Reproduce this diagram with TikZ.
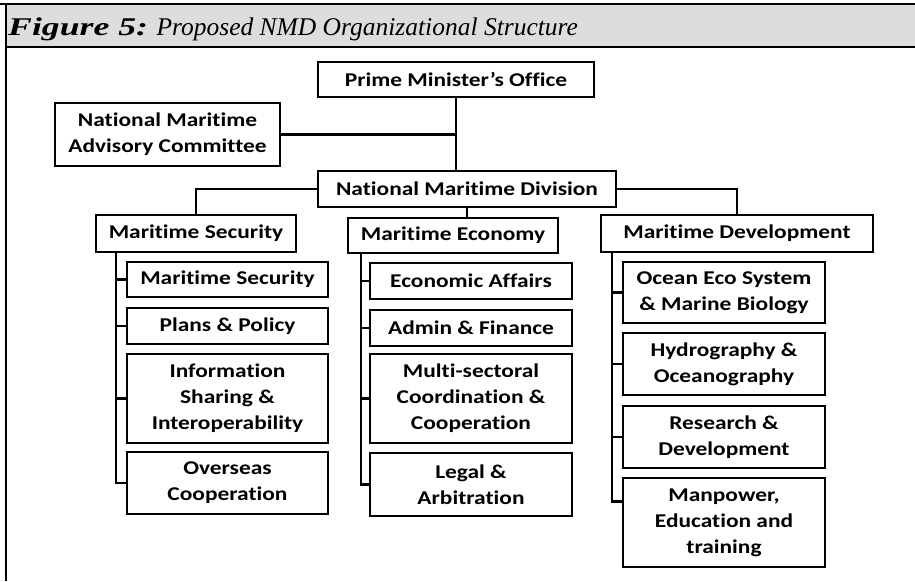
\documentclass[tikz,border=0pt]{standalone}
\usepackage{fontspec}
\newfontfamily\boxfont{Carlito}[FakeStretch=1.2,Ligatures=CommonOff]
\newfontfamily\titlefont{Liberation Serif}
\newfontfamily\figfont{Liberation Serif}[FakeStretch=1.4]
\definecolor{headgray}{RGB}{220,221,223}
\begin{document}
\begin{tikzpicture}[x=1pt,y=-1pt,
box/.style={draw,line width=2.8pt,fill=white,align=center,inner sep=0pt,font=\boxfont\bfseries\fontsize{19.5}{26}\selectfont},
link/.style={line width=2.2pt}]
\useasboundingbox(0,0)rectangle(915,581);
\fill[headgray](6,4)rectangle(915,47);%title band
\draw[line width=1.5pt](0,4)--(915,4) (6,47)--(915,47) (6,4)--(6,581);%frame
\node[anchor=base west,inner sep=0pt,font=\titlefont\itshape\fontsize{25.5}{30}\selectfont](title)at(8,35){{\figfont\bfseries Figure 5:} Proposed NMD Organizational Structure};
%top levels
\node[box,minimum width=276,minimum height=35](pmo)at(456,79.5){Prime Minister’s Office};
\node[box,minimum width=225,minimum height=63](nmac)at(167.5,134.5){National Maritime\\Advisory Committee};
\node[box,minimum width=298,minimum height=36](nmd)at(467,189){National Maritime Division};
\node[box,minimum width=200,minimum height=37](ms)at(196,233.5){Maritime Security};
\node[box,minimum width=210,minimum height=35](me)at(453,235.5){Maritime Economy};
\node[box,minimum width=272,minimum height=37](md)at(737,233.5){Maritime Development};
%security
\node[box,minimum width=201,minimum height=35](s1)at(227.5,279.5){Maritime Security};
\node[box,minimum width=201,minimum height=36](s2)at(227.5,326){Plans \& Policy};
\node[box,minimum width=201,minimum height=89](s3)at(227.5,398.5){Information\\Sharing \&\\Interoperability};
\node[box,minimum width=201,minimum height=62](s4)at(227.5,483){Overseas\\Cooperation};
%economy
\node[box,minimum width=202,minimum height=36](e1)at(471,281){Economic Affairs};
\node[box,minimum width=202,minimum height=36](e2)at(471,328){Admin \& Finance};
\node[box,minimum width=202,minimum height=89](e3)at(471,398.5){Multi-sectoral\\Coordination \&\\Cooperation};
\node[box,minimum width=202,minimum height=63](e4)at(471,484.5){Legal \&\\Arbitration};
%development
\node[box,minimum width=202,minimum height=61](d1)at(724,292.5){Ocean Eco System\\\& Marine Biology};
\node[box,minimum width=202,minimum height=62](d2)at(724,364){Hydrography \&\\Oceanography};
\node[box,minimum width=202,minimum height=62](d3)at(724,437){Research \&\\Development};
\node[box,minimum width=202,minimum height=89](d4)at(724,522.5){Manpower,\\Education and\\training};
%links
\draw[link](pmo.south)--(pmo.south|-nmd.north);
\draw[link](nmac.east)--(pmo.south|-nmac.east);
\draw[link](nmd.west)-|(ms.north);
\draw[link](nmd.east)-|(md.north);
\draw[link](nmd.south)--(nmd.south|-me.north);
\coordinate(mst)at([xshift=21pt]ms.south west);
\coordinate(met)at([xshift=14pt]me.south west);
\coordinate(mdt)at([xshift=12pt]md.south west);
\foreach \n in {s1,s2,s3}\draw[link](mst|-\n.west)--(\n.west);
\foreach \n in {e1,e2,e3}\draw[link](met|-\n.west)--(\n.west);
\foreach \n in {d1,d2,d3}\draw[link](mdt|-\n.west)--(\n.west);
\draw[link](mst)|-(s4.west);
\draw[link](met)|-(e4.west);
\draw[link](mdt)|-([yshift=21pt]d4.west);
\end{tikzpicture}
\end{document}
